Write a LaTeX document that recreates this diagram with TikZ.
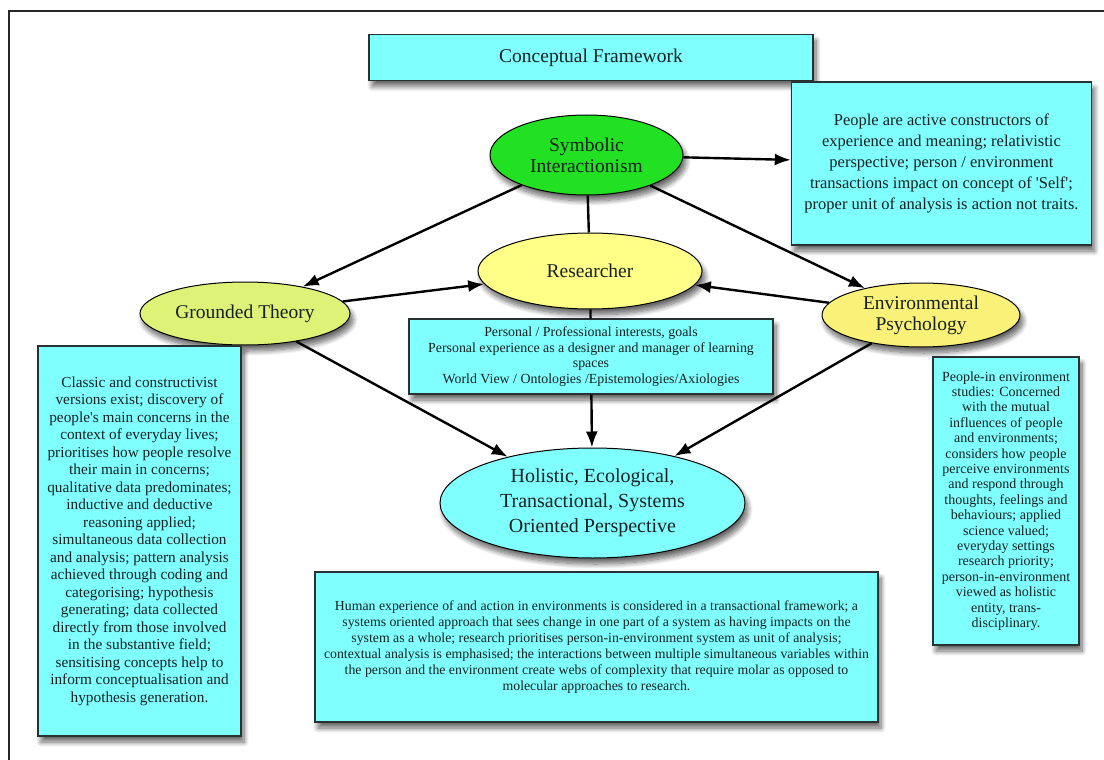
\documentclass[tikz,border=0pt]{standalone}
\usepackage{fontspec}
\setmainfont{Liberation Serif}[Ligatures=TeXOff]
\usetikzlibrary{shapes.geometric,arrows.meta,shadows.blur}

\definecolor{boxcyan}{RGB}{128,255,255}
\definecolor{sigreen}{RGB}{34,224,34}
\definecolor{resyellow}{RGB}{255,255,136}
\definecolor{gtgreen}{RGB}{222,242,120}
\definecolor{epyellow}{RGB}{250,242,120}
\definecolor{inkdark}{RGB}{22,32,32}
\definecolor{edgedark}{RGB}{40,50,50}

\tikzset{
  softshadow/.style={blur shadow={shadow xshift=3pt, shadow yshift=-6pt,
      shadow blur radius=5pt, shadow blur steps=10, shadow opacity=60}},
  infobox/.style={rectangle, draw=edgedark, line width=1.4pt, fill=boxcyan,
      inner sep=0pt, align=center, text=inkdark, softshadow},
  concept/.style={ellipse, draw=black, line width=1pt, inner sep=0pt,
      align=center, text=inkdark, softshadow,
      font=\fontsize{19.5}{21}\selectfont},
  link/.style={line width=2.4pt, draw=black,
      -{Latex[length=16pt,width=12pt]}},
  plainlink/.style={line width=2.4pt, draw=black},
  frameline/.style={line width=1.6pt, draw=black!85},
}

\begin{document}
\begin{tikzpicture}[x=1pt,y=-1pt]
\useasboundingbox (0,0) rectangle (1104,760);

% outer frame
\draw[frameline] (9,760) -- (9,11) -- (1104,11);

% title
\node[infobox, minimum width=444pt, minimum height=46pt,
      font=\fontsize{19.5}{21}\selectfont] (title) at (591,57.5)
  {Conceptual Framework};

% concepts
\node[concept, fill=sigreen, minimum width=193pt, minimum height=80pt]
  (si) at (586.5,155) {Symbolic\\Interactionism};
\node[concept, fill=resyellow, minimum width=224pt, minimum height=76pt]
  (res) at (590,271) {Researcher};
\node[concept, fill=gtgreen, minimum width=210pt, minimum height=63pt]
  (gt) at (245,313.5) {Grounded Theory};
\node[concept, fill=epyellow, minimum width=198pt, minimum height=64pt]
  (ep) at (921,315) {Environmental\\Psychology};
\node[concept, fill=boxcyan, minimum width=305pt, minimum height=110pt,
      font=\fontsize{20}{25}\selectfont]
  (hol) at (592.5,503) {Holistic, Ecological,\\Transactional, Systems\\Oriented Perspective};

% descriptions
\node[infobox, minimum width=300pt, minimum height=163pt,
      font=\fontsize{16.5}{21}\selectfont] (sidesc) at (941.5,163.5)
  {People are active constructors of\\
   experience and meaning; relativistic\\
   perspective; person / environment\\
   transactions impact on concept of 'Self';\\
   proper unit of analysis is action not traits.};

\node[infobox, minimum width=364pt, minimum height=75pt,
      font=\fontsize{13.9}{15.5}\selectfont] (resbox) at (591,356.5)
  {Personal / Professional interests, goals\\
   Personal experience as a designer and manager of learning\\
   spaces\\
   World View / Ontologies /Epistemologies/Axiologies};

\node[infobox, minimum width=203pt, minimum height=390pt,
      font=\fontsize{15.3}{17.5}\selectfont] (gtdesc) at (139.5,541)
  {Classic and constructivist\\
   versions exist; discovery of\\
   people's main concerns in the\\
   context of everyday lives;\\
   prioritises how people resolve\\
   their main in concerns;\\
   qualitative data predominates;\\
   inductive and deductive\\
   reasoning applied;\\
   simultaneous data collection\\
   and analysis; pattern analysis\\
   achieved through coding and\\
   categorising; hypothesis\\
   generating; data collected\\
   directly from those involved\\
   in the substantive field;\\
   sensitising concepts help to\\
   inform conceptualisation and\\
   hypothesis generation.};

\node[infobox, minimum width=146pt, minimum height=288pt,
      font=\fontsize{14}{15.4}\selectfont] (epdesc) at (1006,501)
  {People-in environment\\
   studies: Concerned\\
   with the mutual\\
   influences of people\\
   and environments;\\
   considers how people\\
   perceive environments\\
   and respond through\\
   thoughts, feelings and\\
   behaviours; applied\\
   science valued;\\
   everyday settings\\
   research priority;\\
   person-in-environment\\
   viewed as holistic\\
   entity, trans-\\
   disciplinary.};

\node[infobox, minimum width=563pt, minimum height=150pt,
      font=\fontsize{13.8}{16}\selectfont] (holdesc) at (596.5,647)
  {Human experience of and action in environments is considered in a transactional framework; a\\
   systems oriented approach that sees change in one part of a system as having impacts on the\\
   system as a whole; research prioritises person-in-environment system as unit of analysis;\\
   contextual analysis is emphasised; the interactions between multiple simultaneous variables within\\
   the person and the environment create webs of complexity that require molar as opposed to\\
   molecular approaches to research.};

% connectors
\draw[link] (si) -- (sidesc);
\draw[link] (si) -- (gt);
\draw[link] (si) -- (ep);
\draw[plainlink] (si) -- (res);
\draw[link] (gt) -- (res);
\draw[link] (ep) -- (res);
\draw[plainlink] (res) -- (resbox);
\draw[link] (resbox) -- (hol);
\draw[link] (gt) -- (hol);
\draw[link] (ep) -- (hol);
\end{tikzpicture}
\end{document}
